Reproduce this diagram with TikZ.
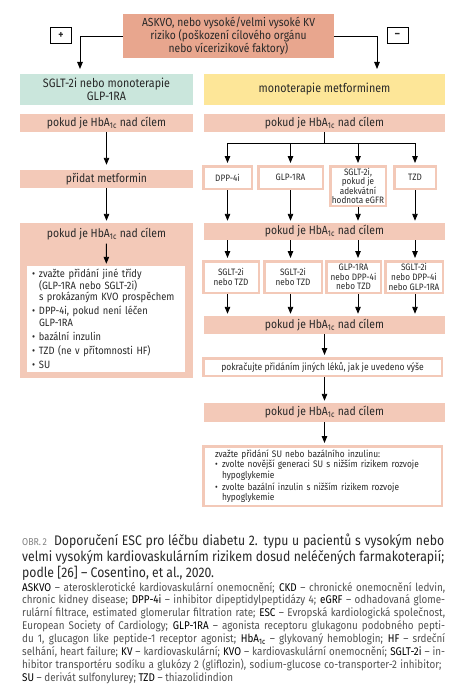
\documentclass[tikz,border=0pt]{standalone}
\usepackage{fontspec}
\setmainfont{Fira Sans}[FakeStretch=0.88]
\usetikzlibrary{arrows.meta,positioning,calc}
\definecolor{riskfill}{RGB}{232,166,142}
\definecolor{pinkfill}{RGB}{243,201,184}
\definecolor{greenfill}{RGB}{202,230,220}
\definecolor{yellowfill}{RGB}{253,230,152}
\definecolor{textgray}{RGB}{40,40,40}
\definecolor{glossgray}{RGB}{80,80,80}
\newcommand{\hba}{HbA\textsubscript{1c}}
\newcommand{\abbr}[1]{{\color{black}#1}}
\newcommand{\bul}{\makebox[7pt][l]{\textbullet}}
\newcommand{\cont}{\hspace*{7pt}}

\begin{document}
\begin{tikzpicture}[
    x=1pt, y=-1pt,
    text=textgray,
    riskbox/.style={fill=riskfill, minimum width=211pt, minimum height=44pt, inner sep=0pt, align=center, font=\fontsize{11.7}{12.8}\selectfont},
    signbox/.style={draw=black, line width=0.8pt, minimum width=21pt, minimum height=16pt, inner sep=0pt, font=\fontsize{11}{11}\selectfont\bfseries},
    startbox/.style={minimum height=31pt, inner sep=0pt, align=center, font=\fontsize{12.2}{13}\selectfont},
    bar/.style={fill=pinkfill, inner sep=0pt, font=\fontsize{11.8}{12}\selectfont},
    drugbox/.style={draw=pinkfill, line width=2.5pt, fill=white, inner sep=0pt, align=center, font=\fontsize{9.3}{9.6}\selectfont},
    arr/.style={-{Triangle[width=5.5pt,length=7pt]}, line width=0.9pt, draw=black, shorten >=2pt},
    glossline/.style={anchor=base west, inner sep=0pt, text=glossgray, font=\fontsize{11.2}{12}\selectfont},
    titleline/.style={anchor=base west, inner sep=0pt, font=\fontsize{13.9}{15}\selectfont}
]
    \useasboundingbox (0,0) rectangle (454,685);

    % top of the chart
    \node[riskbox] (askvo) at (228.5,36) {ASKVO, nebo vysoké/velmi vysoké KV\\riziko (poškození cílového orgánu\\nebo vícerizikové faktory)};
    \node[signbox] (plus) at (61,35.5) {+};
    \node[signbox] (minus) at (397.5,35.5) {--};
    \node[startbox, fill=greenfill, minimum width=173pt] (sglt) at (106.5,89.5) {SGLT-2i nebo monoterapie\\GLP-1RA};
    \node[startbox, fill=yellowfill, minimum width=241pt] (metf) at (324.5,89.5) {monoterapie metforminem};
    \coordinate (lefttip) at (80,74);
    \coordinate (righttip) at (377,74);
    \draw[arr, shorten >=5pt] (askvo.west) -| (lefttip);
    \draw[arr, shorten >=5pt] (askvo.east) -| (righttip);

    % left column
    \node[bar, minimum width=173pt, minimum height=18pt] (lhba1) at (106.5,123) {pokud je \hba\ nad cílem};
    \node[bar, minimum width=173pt, minimum height=18pt] (ladd) at (106.5,179) {přidat metformin};
    \node[bar, minimum width=173pt, minimum height=155pt] (lbig) at (106.5,300.5) {};
    \node[font=\fontsize{11.8}{12}\selectfont] (lhba2) at (106.5,234) {pokud je \hba\ nad cílem};
    \node[fill=white, minimum width=158pt, minimum height=106pt, inner sep=0pt, text width=148pt, align=left, font=\fontsize{10.6}{11.5}\selectfont] (lopts) at (106,319) {\bul zvažte přidání jiné třídy\\\cont(GLP-1RA nebo SGLT-2i)\\\cont s prokázaným KVO prospěchem\\[2.5pt]\bul DPP-4i, pokud není léčen\\\cont GLP-1RA\\[2.5pt]\bul bazální inzulin\\[2.5pt]\bul TZD (ne v přítomnosti HF)\\[2.5pt]\bul SU};
    \draw[arr, shorten >=5pt] (lhba1) -- (ladd);
    \draw[arr] (ladd) -- (lbig);
    \draw[arr] (lhba2) -- (lopts);

    % right column
    \node[bar, minimum width=241pt, minimum height=18pt] (rhba1) at (324.5,123) {pokud je \hba\ nad cílem};
    \node[drugbox, minimum width=48.5pt, minimum height=22.5pt] (dpp) at (227.5,177.5) {DPP-4i};
    \node[drugbox, minimum width=64.5pt, minimum height=22.5pt] (glp) at (290.5,177.5) {GLP-1RA};
    \node[drugbox, minimum width=55.5pt, minimum height=39.5pt] (sgl) at (358,186) {SGLT-2i,\\pokud je\\adekvátní\\hodnota eGFR};
    \node[drugbox, minimum width=41.5pt, minimum height=22.5pt] (tzd) at (415,177.5) {TZD};
    \draw[line width=0.9pt] (rhba1.south) -- ++(0,11) coordinate (fork);
    \draw[line width=0.9pt] (dpp |- fork) -- (tzd |- fork);

    \node[bar, minimum width=241pt, minimum height=17pt] (rhba2) at (324.5,231.5) {pokud je \hba\ nad cílem};
    \node[drugbox, minimum width=55.5pt, minimum height=31.5pt] (sa) at (231,277) {SGLT-2i\\nebo TZD};
    \node[drugbox, minimum width=57.5pt, minimum height=31.5pt] (sb) at (293,277) {SGLT-2i\\nebo TZD};
    \node[drugbox, minimum width=54.5pt, minimum height=31.5pt] (sc) at (353.5,277) {GLP-1RA\\nebo DPP-4i\\nebo TZD};
    \node[drugbox, minimum width=57.5pt, minimum height=31.5pt] (sd) at (414,277) {SGLT-2i\\nebo DPP-4i\\nebo GLP-1RA};
    \node[bar, minimum width=241pt, minimum height=18pt] (rhba3) at (324.5,325) {pokud je \hba\ nad cílem};

    \foreach \a/\b in {dpp/sa, glp/sb, sgl/sc, tzd/sd} {
        \draw[arr] (\a |- fork) -- (\a.north);
        \draw[arr] (\a.south) -- (\a |- rhba2.north);
        \draw[arr] (\a |- rhba2.south) -- (\a |- \b.north);
        \draw[arr] (\a |- \b.south) -- (\a |- rhba3.north);
    }

    \node[drugbox, minimum width=238.5pt, minimum height=17.5pt, font=\fontsize{9.7}{10}\selectfont] (pokr) at (322.5,367) {pokračujte přidáním jiných léků, jak je uvedeno výše};
    \node[bar, minimum width=241pt, minimum height=19pt] (rhba4) at (324.5,412.5) {pokud je \hba\ nad cílem};
    \node[drugbox, minimum width=238.5pt, minimum height=59.5pt, text width=215pt, align=left, font=\fontsize{9.5}{10.5}\selectfont] (final) at (322.5,476) {zvažte přidání SU nebo bazálního inzulinu:\\\bul zvolte novější generaci SU s nižším rizikem rozvoje\\\cont hypoglykemie\\[1.5pt]\bul zvolte bazální inzulin s nižším rizikem rozvoje\\\cont hypoglykemie};
    \draw[arr] (rhba3.south) -- (rhba3.south |- pokr.north);
    \draw[arr] (rhba3.south |- pokr.south) -- (rhba3.south |- rhba4.north);
    \draw[arr] (rhba4.south) -- (rhba4.south |- final.north);

    % caption
    \node[titleline] (title1) at (22,545) {\makebox[422pt][s]{{\fontsize{10}{10}\selectfont\color{gray}OBR.\,2}\hspace{7pt}Doporučení ESC pro léčbu diabetu 2. typu u pacientů s vysokým nebo}};
    \node[titleline] (title2) at (22,561) {\makebox[422pt][s]{velmi vysokým kardiovaskulárním rizikem dosud neléčených farmakoterapií;}};
    \node[titleline] (title3) at (22,577) {podle [26] -- Cosentino, et al., 2020.};
    \foreach \txt [count=\i from 0] in {
        {\abbr{ASKVO} -- aterosklerotické kardiovaskulární onemocnění; \abbr{CKD} -- chronické onemocnění ledvin,},
        {chronic kidney disease; \abbr{DPP-4i} -- inhibitor dipeptidylpeptidázy 4; \abbr{eGRF} -- odhadovaná glome-},
        {rulární filtrace, estimated glomerular filtration rate; \abbr{ESC} -- Evropská kardiologická společnost,},
        {European Society of Cardiology; \abbr{GLP-1RA} -- agonista receptoru glukagonu podobného pepti-},
        {du 1, glucagon like peptide-1 receptor agonist; \abbr{\hba} -- glykovaný hemoblogin; \abbr{HF} -- srdeční},
        {selhání, heart failure; \abbr{KV} -- kardiovaskulární; \abbr{KVO} -- kardiovaskulární onemocnění; \abbr{SGLT-2i} -- in-},
        {hibitor transportéru sodíku a glukózy 2 (gliflozin), sodium-glucose co-transporter-2 inhibitor;}
    } {
        \node[glossline] (gloss\i) at (22,{591+12.9*\i}) {\makebox[423pt][s]{\txt}};
    }
    \node[glossline] (gloss7) at (22,681.3) {\abbr{SU} -- derivát sulfonylurey; \abbr{TZD} -- thiazolidindion};
\end{tikzpicture}
\end{document}
